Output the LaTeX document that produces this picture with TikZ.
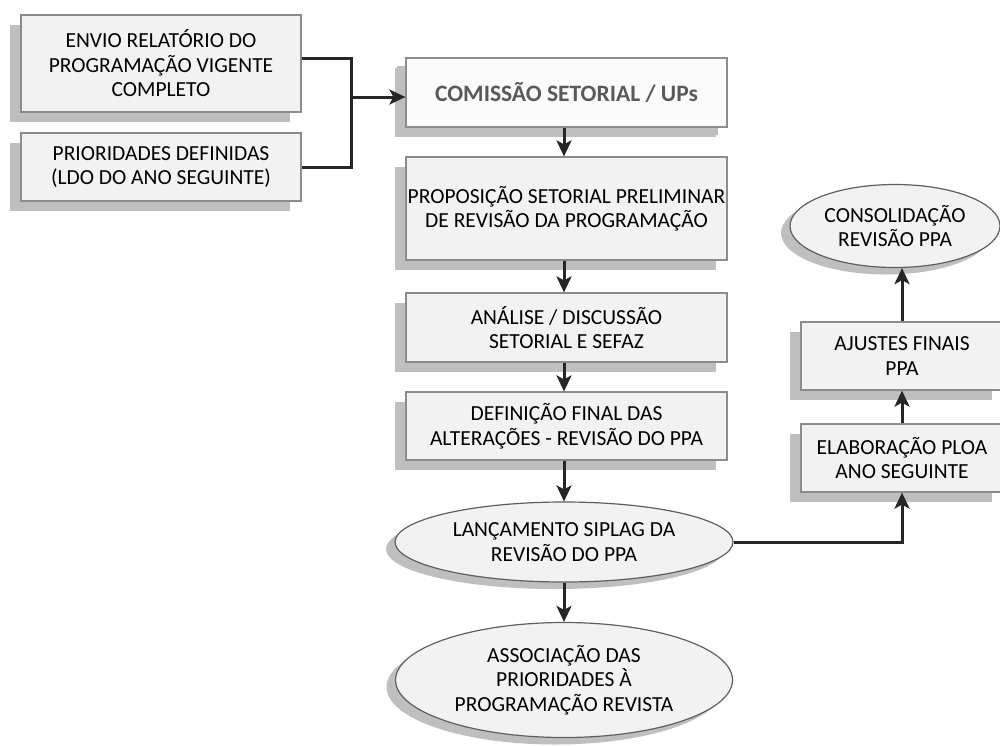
\documentclass[tikz,border=0pt]{standalone}
\usepackage{fontspec}
\setmainfont{Carlito}
\usetikzlibrary{shadows,arrows.meta,shapes.geometric}
\definecolor{boxfill}{HTML}{F2F2F2}
\definecolor{boxline}{HTML}{8C8C8C}
\definecolor{ellline}{HTML}{5F5F5F}
\definecolor{shade}{HTML}{BFBFBF}
\definecolor{arrowc}{HTML}{262626}
\definecolor{titlegrey}{HTML}{595959}
\tikzset{
  boxnode/.style={draw=boxline, line width=1.2pt, fill=boxfill, align=center, inner sep=0pt,
    font=\fontsize{21.5}{24.5}\selectfont,
    drop shadow={shadow xshift=-11pt, shadow yshift=-10pt, opacity=1, fill=shade, draw=none}},
  ellnode/.style={ellipse, draw=ellline, line width=1.2pt, fill=boxfill, align=center, inner sep=0pt,
    font=\fontsize{21.5}{24.5}\selectfont,
    drop shadow={shadow xshift=-9pt, shadow yshift=-7pt, opacity=1, fill=shade, draw=none}},
  conn/.style={draw=arrowc, line width=3pt},
  arr/.style={conn, -{Stealth[length=16pt, width=15pt, inset=4pt]}},
}
\begin{document}
\begin{tikzpicture}[x=1pt, y=-1pt]
\clip (0,0) rectangle (1000,745);
\fill[white] (0,0) rectangle (1000,745);

\node[boxnode, minimum width=280pt, minimum height=97pt] (envio) at (161,63.5)
  {ENVIO RELATÓRIO DO\\PROGRAMAÇÃO VIGENTE\\COMPLETO};
\node[boxnode, minimum width=280pt, minimum height=68pt] (prior) at (161,167)
  {PRIORIDADES DEFINIDAS\\(LDO DO ANO SEGUINTE)};
\node[boxnode, fill=white!97!gray, minimum width=321pt, minimum height=69pt,
  drop shadow={shadow xshift=-9pt, shadow yshift=-8pt, opacity=1, fill=shade, draw=none},
  font=\fontsize{23.5}{26}\selectfont\bfseries, text=titlegrey] (comissao) at (566.5,92.5)
  {COMISSÃO SETORIAL / UPs};
\node[boxnode, minimum width=321pt, minimum height=103pt] (propos) at (566.5,208.5)
  {PROPOSIÇÃO SETORIAL PRELIMINAR\\DE REVISÃO DA PROGRAMAÇÃO};
\node[boxnode, minimum width=321pt, minimum height=69pt] (analise) at (566.5,327.5)
  {ANÁLISE / DISCUSSÃO\\SETORIAL E SEFAZ};
\node[boxnode, minimum width=321pt, minimum height=68pt] (defin) at (566.5,426)
  {DEFINIÇÃO FINAL DAS\\ALTERAÇÕES - REVISÃO DO PPA};
\node[ellnode, minimum width=338pt, minimum height=80pt] (lanc) at (564,542)
  {LANÇAMENTO SIPLAG DA\\REVISÃO DO PPA};
\node[ellnode, minimum width=337pt, minimum height=115pt] (assoc) at (564,680)
  {ASSOCIAÇÃO DAS\\PRIORIDADES À\\PROGRAMAÇÃO REVISTA};
\node[ellnode, minimum width=210pt, minimum height=83pt] (consol) at (895,226)
  {CONSOLIDAÇÃO\\REVISÃO PPA};
\node[boxnode, minimum width=202pt, minimum height=68pt] (ajustes) at (902,356)
  {AJUSTES FINAIS\\PPA};
\node[boxnode, minimum width=202pt, minimum height=68pt] (elab) at (902,458)
  {ELABORAÇÃO PLOA\\ANO SEGUINTE};

% left inputs to commission
\coordinate (j) at (351,97);
\draw[conn] ([yshift=5pt]envio.east) -| (j);
\draw[conn] (prior.east) -| (j);
\draw[arr] (j) -- (j -| comissao.west);

% central column
\draw[arr] (comissao.south -| lanc.center) -- (propos.north -| lanc.center);
\draw[arr] (propos.south -| lanc.center) -- (analise.north -| lanc.center);
\draw[arr] (analise.south -| lanc.center) -- (defin.north -| lanc.center);
\draw[arr] (defin.south -| lanc.center) -- (lanc.north);
\draw[arr] (lanc.south) -- (assoc.north);

% right column
\draw[arr] (lanc.east) -| (elab.south);
\draw[arr] (elab.north) -- (ajustes.south);
\draw[arr] (ajustes.north) -- (ajustes.north |- consol.south);
\end{tikzpicture}
\end{document}
